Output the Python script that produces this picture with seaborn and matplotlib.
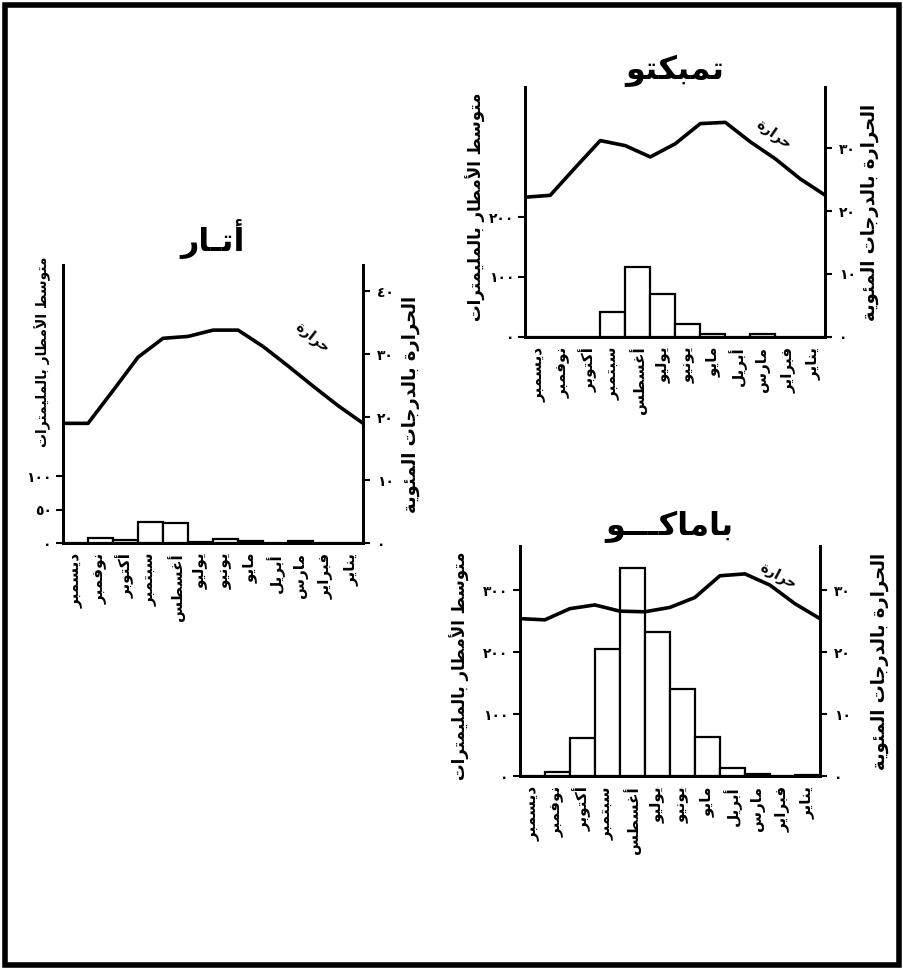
import numpy as np
import pandas as pd
import seaborn as sns
import matplotlib.pyplot as plt
from matplotlib.patches import Rectangle

# months as drawn, left to right (December ... January)
months = ["ديسمبر", "نوفمبر", "أكتوبر", "سبتمبر", "أغسطس", "يوليو",
          "يونيو", "مايو", "أبريل", "مارس", "فبراير", "يناير"]

# rainfall (mm), same order as months
atar_rain = [0, 7, 5, 32, 30, 2, 6, 3, 0, 3, 0, 0]
timbuktu_rain = [0, 0, 0, 42, 117, 72, 22, 4, 0, 5, 0, 0]
bamako_rain = [0, 7, 61, 205, 335, 233, 141, 63, 14, 4, 0, 2]

# temperature (C) read at the 13 month boundaries, left to right
atar_temp = [19.0, 19.0, 24.2, 29.5, 32.5, 32.8, 33.8, 33.8, 31.2, 28.1, 24.9, 21.8, 19.0]
timbuktu_temp = [22.2, 22.5, 26.9, 31.2, 30.4, 28.6, 30.7, 33.9, 34.1, 31.0, 28.3, 25.1, 22.5]
bamako_temp = [25.4, 25.2, 27.0, 27.6, 26.6, 26.5, 27.2, 28.8, 32.3, 32.6, 30.8, 27.8, 25.4]

titles = ["أتـار", "تمبكتو", "باماكـــو"]
rain_label = "متوسط الأمطار بالمليمترات"
temp_label = "الحرارة بالدرجات المئوية"
line_label = "حرارة"

atar_rain_ticks = [0, 50, 100]
timbuktu_rain_ticks = [0, 100, 200]
bamako_rain_ticks = [0, 100, 200, 300]
atar_temp_ticks = [0, 10, 20, 30, 40]
other_temp_ticks = [0, 10, 20, 30]


# --- minimal arabic shaping (matplotlib has no bidi / joining) ---
FORMS = {
    "ء": (0xFE80, 1), "آ": (0xFE81, 2), "أ": (0xFE83, 2), "ؤ": (0xFE85, 2),
    "إ": (0xFE87, 2), "ئ": (0xFE89, 4), "ا": (0xFE8D, 2), "ب": (0xFE8F, 4),
    "ة": (0xFE93, 2), "ت": (0xFE95, 4), "ث": (0xFE99, 4), "ج": (0xFE9D, 4),
    "ح": (0xFEA1, 4), "خ": (0xFEA5, 4), "د": (0xFEA9, 2), "ذ": (0xFEAB, 2),
    "ر": (0xFEAD, 2), "ز": (0xFEAF, 2), "س": (0xFEB1, 4), "ش": (0xFEB5, 4),
    "ص": (0xFEB9, 4), "ض": (0xFEBD, 4), "ط": (0xFEC1, 4), "ظ": (0xFEC5, 4),
    "ع": (0xFEC9, 4), "غ": (0xFECD, 4), "ف": (0xFED1, 4), "ق": (0xFED5, 4),
    "ك": (0xFED9, 4), "ل": (0xFEDD, 4), "م": (0xFEE1, 4), "ن": (0xFEE5, 4),
    "ه": (0xFEE9, 4), "و": (0xFEED, 2), "ى": (0xFEEF, 2), "ي": (0xFEF1, 4),
}
LAM_ALEF = {"آ": 0xFEF5, "أ": 0xFEF7, "إ": 0xFEF9, "ا": 0xFEFB}
TATWEEL = "ـ"


def joins_next(c):
    return c == TATWEEL or (c in FORMS and FORMS[c][1] == 4)


def is_letter(c):
    return c in FORMS or c == TATWEEL


def shape(text):
    out = []
    prev = None
    i = 0
    while i < len(text):
        c = text[i]
        if c == TATWEEL:
            out.append(c)
            prev = c
            i += 1
            continue
        if c not in FORMS:
            out.append(c)
            prev = None
            i += 1
            continue
        linked = prev is not None and joins_next(prev)
        if c == "ل" and i + 1 < len(text) and text[i + 1] in LAM_ALEF:
            out.append(chr(LAM_ALEF[text[i + 1]] + (1 if linked else 0)))
            prev = text[i + 1]
            i += 2
            continue
        base, n = FORMS[c]
        nxt = text[i + 1] if i + 1 < len(text) else ""
        to_next = n == 4 and is_letter(nxt)
        if n == 1:
            code = base
        elif linked and to_next:
            code = base + 3
        elif to_next:
            code = base + 2
        elif linked:
            code = base + 1
        else:
            code = base
        out.append(chr(code))
        prev = c
        i += 1
    return "".join(reversed(out))


def ar_num(v):
    return str(v).translate(str.maketrans("0123456789", "٠١٢٣٤٥٦٧٨٩"))


sns.set_style("white")
plt.rcParams["font.family"] = ["DejaVu Sans"]
plt.rcParams["font.weight"] = "bold"
for key in ("text.color", "axes.labelcolor", "xtick.color", "ytick.color"):
    plt.rcParams[key] = "black"

fig = plt.figure(figsize=(9.04, 9.68), dpi=100)


def climate_panel(rect, rain, temp, title, rain_max, temp_max,
                  rain_ticks, temp_ticks, line_xy, line_rot,
                  rain_lab_xy, rain_lab_size, temp_lab_x, title_pad):
    ax = fig.add_axes(rect)
    df = pd.DataFrame({"month": months, "rain": rain})
    sns.barplot(data=df, x="month", y="rain", order=months, color="white",
                edgecolor="black", linewidth=1.6, width=1.0, saturation=1,
                ax=ax)
    ax.set_xlim(-0.5, len(months) - 0.5)
    ax.set_ylim(0, rain_max)

    ax2 = ax.twinx()
    edges = np.arange(len(temp)) - 0.5
    sns.lineplot(x=edges, y=temp, color="black", linewidth=2.6, ax=ax2)
    ax2.set_ylim(0, temp_max)
    ax2.set_xlim(-0.5, len(months) - 0.5)

    for a in (ax, ax2):
        a.spines["top"].set_visible(False)
        for s in ("left", "right", "bottom"):
            a.spines[s].set_linewidth(2.0)
            a.spines[s].set_color("black")
        a.set_xlabel("")
        a.set_ylabel("")

    ax.set_yticks(rain_ticks)
    ax.set_yticklabels([ar_num(t) for t in rain_ticks], fontsize=10,
                       fontweight="bold")
    ax2.set_yticks(temp_ticks)
    ax2.set_yticklabels([ar_num(t) for t in temp_ticks], fontsize=10,
                        fontweight="bold")
    ax.tick_params(axis="y", direction="out", length=5, width=1.5, pad=3)
    ax2.tick_params(axis="y", direction="out", length=5, width=1.5, pad=5)

    ax.set_xticks(np.arange(len(months)))
    ax.set_xticklabels([shape(m) for m in months], rotation=90,
                       fontsize=11, fontweight="bold")
    ax.tick_params(axis="x", length=0, pad=7)
    ax.set_xticks(np.arange(len(months) + 1) - 0.5, minor=True)
    ax.tick_params(axis="x", which="minor", direction="out", length=4,
                   width=1.5)

    ax.text(rain_lab_xy[0], rain_lab_xy[1], shape(rain_label),
            transform=ax.transAxes, rotation=90, ha="center", va="center",
            fontsize=rain_lab_size, fontweight="bold")
    ax2.text(temp_lab_x, 0.5, shape(temp_label), transform=ax2.transAxes,
             rotation=90, ha="center", va="center", fontsize=13,
             fontweight="bold")
    ax2.text(line_xy[0], line_xy[1], shape(line_label), transform=ax2.transAxes,
             rotation=line_rot, ha="center", va="center", fontsize=10,
             fontweight="bold")
    ax.set_title(shape(title), fontsize=23, fontweight="bold", pad=title_pad)
    return ax


climate_panel([0.0697, 0.439, 0.332, 0.287], atar_rain, atar_temp, titles[0],
              417, 44.1, atar_rain_ticks, atar_temp_ticks, (0.83, 0.74), -38,
              (-0.067, 0.69), 10, 1.16, 10)
climate_panel([0.581, 0.652, 0.332, 0.258], timbuktu_rain, timbuktu_temp,
              titles[1], 417, 39.7, timbuktu_rain_ticks, other_temp_ticks,
              (0.83, 0.81), -35, (-0.165, 0.52), 12, 1.15, 2)
climate_panel([0.575, 0.198, 0.332, 0.238], bamako_rain, bamako_temp,
              titles[2], 371, 37.1, bamako_rain_ticks, other_temp_ticks,
              (0.86, 0.87), -28, (-0.2, 0.48), 12, 1.2, 8)

# heavy scan frame round the page
fig.patches.append(Rectangle((0.005, 0.003), 0.99, 0.992, transform=fig.transFigure,
                             fill=False, edgecolor="black", linewidth=4))

fig.savefig("out.png", dpi=100, facecolor="white")
